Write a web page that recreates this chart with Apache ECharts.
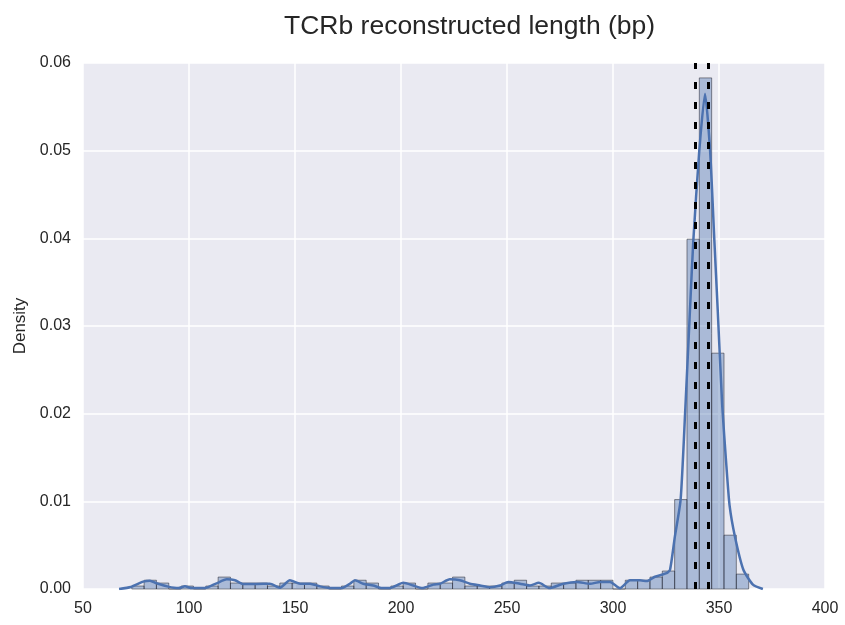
<!DOCTYPE html>
<html>
<head>
<meta charset="utf-8">
<script src="https://cdn.jsdelivr.net/npm/echarts@6/dist/echarts.min.js"></script>
<style>
  html, body { margin: 0; padding: 0; background: #fff; }
  #chart { width: 845px; height: 625px; }
</style>
</head>
<body>
<div id="chart"></div>
<script>
// histogram bins (left edge of first bin, bin width) and bar heights (density)
const binStart = 73.0;
const binWidth = 5.82;
const binDensity = [
  0.00034, 0.001, 0.00068, 0, 0.00034, 0, 0.00034, 0.00136, 0.00068, 0.00068,
  0.00068, 0.00034, 0.00068, 0.00068, 0.00068, 0.00034, 0, 0.00034, 0.001, 0.00068,
  0, 0.00034, 0.00068, 0, 0.00068, 0.00068, 0.00136, 0.00034, 0.00034, 0.00034,
  0.00068, 0.001, 0.00034, 0.00034, 0.00068, 0.00068, 0.001, 0.001, 0.001, 0,
  0.001, 0.001, 0.00136, 0.00205, 0.0102, 0.0399, 0.0583, 0.0269, 0.00614, 0.0017
];

// kde curve
const kdeX = [
  67, 72.6, 78.4, 81.6, 84.7, 90.2, 95, 98.1, 101.3, 107.5,
  113, 117.8, 121.7, 125.6, 131.9, 138.2, 142.9, 147.6, 152.4, 157.1,
  161.8, 166.5, 172, 175.9, 178.3, 182.2, 186.9, 191, 194.8, 201.1,
  205.8, 210, 215.3, 218.4, 223, 227.8, 232.5, 237.3, 242, 246.7,
  250.6, 256.1, 260.8, 265, 270, 276.6, 282.9, 289.2, 293.9, 298.6,
  303.3, 308, 312.7, 315.9, 319.8, 325.3, 326.9, 329.2, 331.9, 334,
  336.3, 337.9, 340.7, 343.4, 345.8, 347.8, 349.4, 351.5, 353.5, 355,
  357.5, 361.5, 366, 370.7
];
const kdeY = [
  0, 0.00023, 0.00084, 0.00095, 0.00065, 0.00027, 0.0001, 0.0003, 0.0001, 0.0001,
  0.00065, 0.0011, 0.001, 0.00057, 0.00057, 0.0006, 0.00015, 0.001, 0.0006, 0.0006,
  0.0003, 0.0001, 0.0001, 0.0006, 0.001, 0.0006, 0.0004, 0.0001, 0.0001, 0.0007,
  0.0004, 0.0001, 0.0005, 0.0006, 0.0011, 0.001, 0.0006, 0.0004, 0.0002, 0.0004,
  0.0008, 0.0006, 0.0004, 0.0007, 0.0001, 0.0006, 0.0008, 0.0006, 0.0008, 0.0008,
  0.0001, 0.001, 0.001, 0.0009, 0.0014, 0.0018, 0.0022, 0.006, 0.0102, 0.02,
  0.0318, 0.0398, 0.05, 0.0565, 0.05, 0.0398, 0.0318, 0.021, 0.014, 0.0095,
  0.006, 0.0022, 0.0005, 0
];

// dashed reference lines
const refLines = [338.7, 345.0];

const xTicks = { min: 50, max: 400, step: 50 };
const yTicks = { min: 0, max: 0.06, step: 0.01 };

const barData = binDensity.map((d, i) => [binStart + i * binWidth, binStart + (i + 1) * binWidth, d]);
const kdeData = kdeX.map((x, i) => [x, kdeY[i]]);

const chart = echarts.init(document.getElementById('chart'));

const font = 'Liberation Sans, Arial, sans-serif';

chart.setOption({
  backgroundColor: '#ffffff',
  animation: false,
  title: {
    text: 'TCRb reconstructed length (bp)',
    left: 279,
    top: 8,
    textStyle: { fontFamily: font, fontSize: 26.5, fontWeight: 'normal', color: '#262626' }
  },
  grid: {
    left: 83,
    right: 20,
    top: 63,
    bottom: 36,
    show: true,
    backgroundColor: '#EAEAF2',
    borderWidth: 0
  },
  xAxis: {
    type: 'value',
    min: xTicks.min,
    max: xTicks.max,
    interval: xTicks.step,
    axisLine: { show: false },
    axisTick: { show: false },
    axisLabel: { color: '#262626', fontSize: 16, fontFamily: font, margin: 12 },
    splitLine: { show: true, lineStyle: { color: '#ffffff', width: 1.5 } }
  },
  yAxis: {
    type: 'value',
    name: 'Density',
    nameLocation: 'middle',
    nameGap: 53,
    nameTextStyle: { color: '#262626', fontSize: 17, fontFamily: font },
    min: yTicks.min,
    max: yTicks.max,
    interval: yTicks.step,
    axisLine: { show: false },
    axisTick: { show: false },
    axisLabel: {
      color: '#262626', fontSize: 16, fontFamily: font, margin: 12,
      formatter: v => v.toFixed(2)
    },
    splitLine: { show: true, lineStyle: { color: '#ffffff', width: 1.5 } }
  },
  series: [
    {
      type: 'custom',
      data: barData,
      renderItem: (params, api) => {
        const p0 = api.coord([api.value(0), api.value(2)]);
        const p1 = api.coord([api.value(1), 0]);
        return {
          type: 'rect',
          shape: { x: p0[0], y: p0[1], width: p1[0] - p0[0], height: p1[1] - p0[1] },
          style: {
            fill: 'rgba(76,114,176,0.4)',
            stroke: 'rgba(30,30,40,0.5)',
            lineWidth: 1
          }
        };
      },
      z: 2
    },
    {
      type: 'line',
      data: kdeData,
      showSymbol: false,
      smooth: 0.2,
      lineStyle: { color: '#4C72B0', width: 2.5 },
      z: 3,
      markLine: {
        silent: true,
        symbol: 'none',
        label: { show: false },
        lineStyle: { color: '#000000', width: 3, type: [7, 13] },
        data: refLines.map(x => ({ xAxis: x }))
      }
    }
  ]
});
</script>
</body>
</html>
